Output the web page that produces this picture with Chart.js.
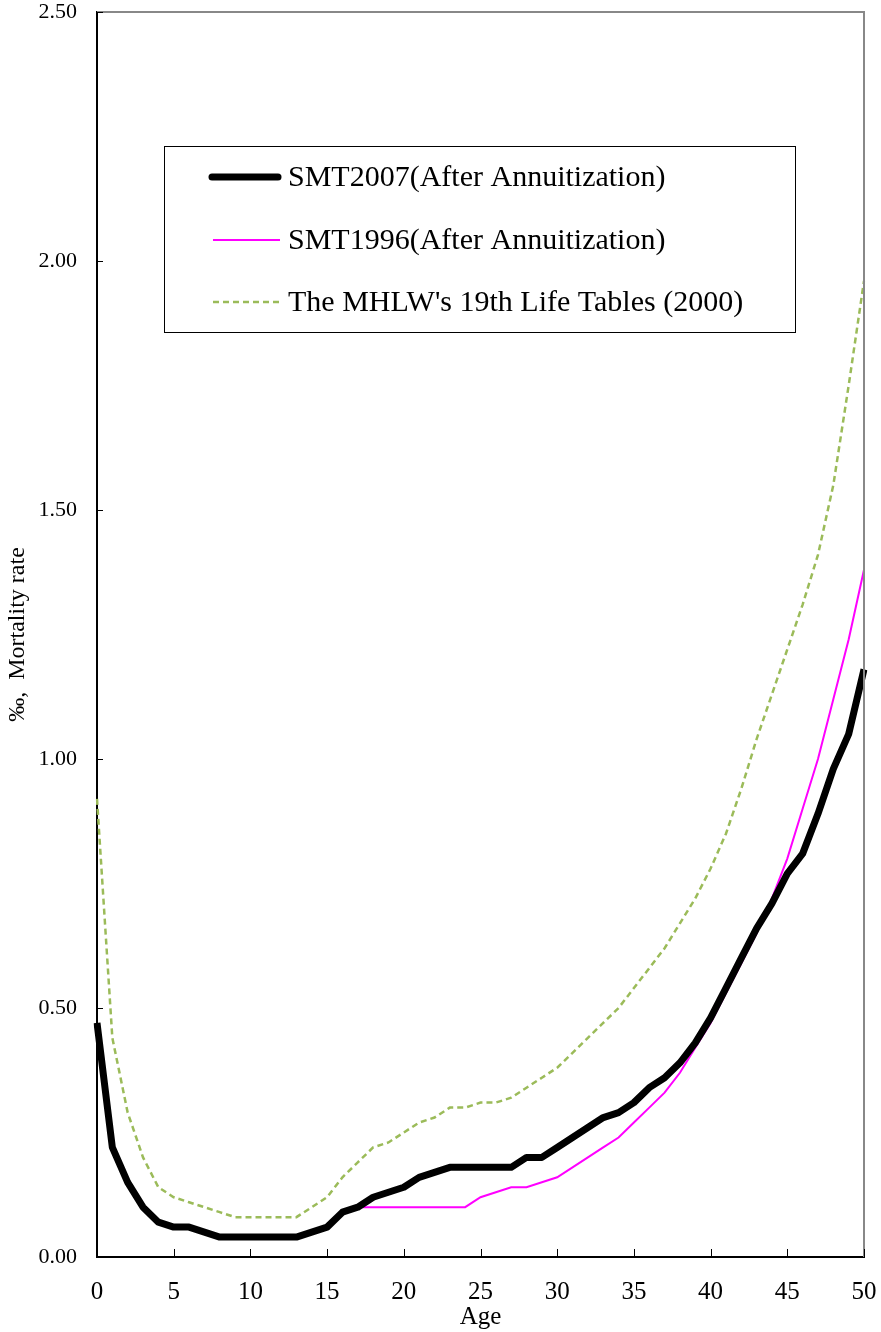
<!DOCTYPE html>
<html>
<head>
<meta charset="utf-8">
<script src="https://cdn.jsdelivr.net/npm/chart.js@4.4.0/dist/chart.umd.min.js"></script>
<style>
  body { margin: 0; background: #fff; }
  canvas { display: block; }
</style>
</head>
<body>
<canvas id="mortalityChart" width="881" height="1332"></canvas>
<script>
// ages 0..50
var ages = [];
for (var a = 0; a <= 50; a++) ages.push(a);

var smt2007 = [0.47, 0.22, 0.15, 0.10, 0.07, 0.06, 0.06, 0.05, 0.04, 0.04,
  0.04, 0.04, 0.04, 0.04, 0.05, 0.06, 0.09, 0.10, 0.12, 0.13,
  0.14, 0.16, 0.17, 0.18, 0.18, 0.18, 0.18, 0.18, 0.20, 0.20,
  0.22, 0.24, 0.26, 0.28, 0.29, 0.31, 0.34, 0.36, 0.39, 0.43,
  0.48, 0.54, 0.60, 0.66, 0.71, 0.77, 0.81, 0.89, 0.98, 1.05, 1.18];

var smt1996 = [null, null, null, null, null, null, null, null, null, null,
  null, null, null, null, null, null, 0.09, 0.10, 0.10, 0.10,
  0.10, 0.10, 0.10, 0.10, 0.10, 0.12, 0.13, 0.14, 0.14, 0.15,
  0.16, 0.18, 0.20, 0.22, 0.24, 0.27, 0.30, 0.33, 0.37, 0.42,
  0.47, 0.53, 0.59, 0.65, 0.72, 0.80, 0.90, 1.00, 1.12, 1.24, 1.38];

var mhlw19th = [0.92, 0.44, 0.29, 0.20, 0.14, 0.12, 0.11, 0.10, 0.09, 0.08,
  0.08, 0.08, 0.08, 0.08, 0.10, 0.12, 0.16, 0.19, 0.22, 0.23,
  0.25, 0.27, 0.28, 0.30, 0.30, 0.31, 0.31, 0.32, 0.34, 0.36,
  0.38, 0.41, 0.44, 0.47, 0.50, 0.54, 0.58, 0.62, 0.67, 0.72,
  0.78, 0.85, 0.94, 1.04, 1.13, 1.22, 1.31, 1.41, 1.55, 1.75, 1.96];

var seriesNames = ['SMT2007(After Annuitization)', 'SMT1996(After Annuitization)', "The MHLW's 19th Life Tables (2000)"];
var yTicks = [0, 0.5, 1.0, 1.5, 2.0, 2.5];

var serif = "'Liberation Serif', 'Times New Roman', serif";

// inside tick marks, grey top/right frame, boxed legend
var framePlugin = {
  id: 'frame',
  afterDraw: function(chart) {
    var c = chart.ctx, area = chart.chartArea;
    var xs = chart.scales.x, ys = chart.scales.y;
    c.save();
    c.strokeStyle = '#888';
    c.lineWidth = 2;
    c.beginPath();
    c.moveTo(area.left, area.top);
    c.lineTo(area.right, area.top);
    c.lineTo(area.right, area.bottom);
    c.stroke();

    c.strokeStyle = '#000';
    c.lineWidth = 1;
    c.beginPath();
    yTicks.forEach(function(v) {
      var py = Math.round(ys.getPixelForValue(v)) + 0.5;
      c.moveTo(area.left, py);
      c.lineTo(area.left + 6, py);
    });
    ages.forEach(function(age, i) {
      if (age % 5 !== 0 || age === 0) return;
      var px = Math.round(xs.getPixelForValue(i)) + 0.5;
      c.moveTo(px, area.bottom);
      c.lineTo(px, area.bottom - 8);
    });
    c.stroke();

    // legend
    var bx = 164, by = 146, bw = 631, bh = 186;
    c.fillStyle = '#fff';
    c.fillRect(bx, by, bw, bh);
    c.strokeStyle = '#000';
    c.lineWidth = 1;
    c.strokeRect(bx + 0.5, by + 0.5, bw, bh);
    var rows = [177, 240, 302];
    c.font = '30px ' + serif;
    c.textBaseline = 'middle';
    chart.data.datasets.forEach(function(ds, i) {
      var y = rows[i];
      c.strokeStyle = ds.borderColor;
      c.lineWidth = ds.borderWidth;
      c.lineCap = i === 0 ? 'round' : 'butt';
      c.setLineDash(ds.borderDash || []);
      c.beginPath();
      c.moveTo(i === 0 ? 212 : 213, y);
      c.lineTo(i === 0 ? 278 : 280, y);
      c.stroke();
      c.setLineDash([]);
      c.fillStyle = '#000';
      c.fillText(ds.label, 288, y + 1);
    });
    c.restore();
  }
};

var ctx = document.getElementById('mortalityChart').getContext('2d');
var chart = new Chart(ctx, {
  type: 'line',
  data: {
    labels: ages,
    datasets: [
      {
        label: seriesNames[0],
        data: smt2007,
        borderColor: '#000000',
        borderWidth: 7,
        pointRadius: 0,
        tension: 0,
        borderJoinStyle: 'round'
      },
      {
        label: seriesNames[1],
        data: smt1996,
        borderColor: '#FF00FF',
        borderWidth: 2,
        pointRadius: 0,
        tension: 0,
        spanGaps: false
      },
      {
        label: seriesNames[2],
        data: mhlw19th,
        borderColor: '#9BBB59',
        borderWidth: 2.5,
        borderDash: [6, 4],
        pointRadius: 0,
        tension: 0
      }
    ]
  },
  options: {
    responsive: false,
    animation: false,
    layout: { padding: { top: 12, right: 17, left: 0, bottom: 0 } },
    plugins: {
      legend: { display: false },
      tooltip: { enabled: false }
    },
    scales: {
      x: {
        type: 'category',
        offset: false,
        grid: { display: false, drawTicks: false },
        border: { display: true, color: '#000', width: 2 },
        ticks: {
          autoSkip: false,
          maxRotation: 0,
          padding: 20,
          color: '#000',
          font: { family: serif, size: 25 },
          callback: function(v, i) { return ages[i] % 5 === 0 ? String(ages[i]) : null; }
        },
        title: {
          display: true,
          text: 'Age',
          color: '#000',
          font: { family: serif, size: 25 },
          padding: { top: 0, bottom: 0 }
        },
        afterFit: function(s) {
          s.height = 75;
          s.paddingLeft = 0;
          s.paddingRight = 0;
        }
      },
      y: {
        min: 0,
        max: 2.5,
        grid: { display: false, drawTicks: false },
        border: { display: true, color: '#000', width: 2 },
        afterBuildTicks: function(s) { s.ticks = yTicks.map(function(v) { return { value: v }; }); },
        ticks: {
          padding: 20,
          color: '#000',
          font: { family: serif, size: 22 },
          callback: function(v) { return Number(v).toFixed(2); }
        },
        title: {
          display: true,
          text: '‰,  Mortality rate',
          color: '#000',
          font: { family: serif, size: 24 },
          padding: { top: 3, bottom: 0 }
        },
        afterFit: function(s) {
          s.width = 97;
          s.paddingTop = 0;
          s.paddingBottom = 0;
        }
      }
    }
  },
  plugins: [framePlugin]
});
</script>
</body>
</html>
